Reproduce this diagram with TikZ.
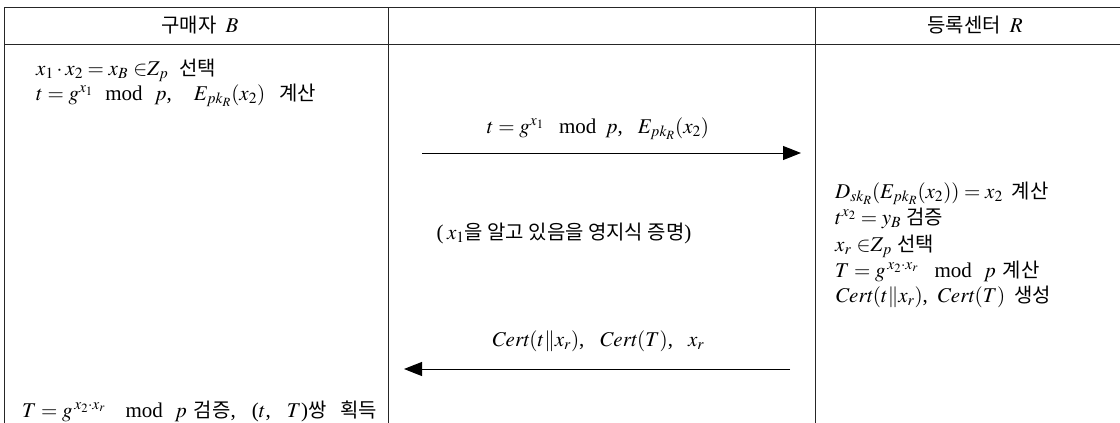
\documentclass[tikz,border=0pt]{standalone}
\usepackage{mathptmx}
\usepackage[no-math]{fontspec}
\setmainfont{Liberation Serif}
\newfontfamily\kr[Scale=0.95]{Noto Sans CJK KR}
\usetikzlibrary{arrows.meta}
\newcommand{\gp}{\hspace{9pt}}
\newcommand{\wgp}{\hspace{15pt}}
\tikzset{
  tline/.style={line width=0.9pt, draw=black!85},
  lbl/.style={inner sep=0pt, font=\fontsize{21}{24}\selectfont},
  msg/.style={line width=1pt, -{Triangle[length=18pt,width=14pt]}},
}
\begin{document}
\begin{tikzpicture}[x=1pt,y=-1pt]
\useasboundingbox (0,0) rectangle (1120,423);
% table lines
\draw[tline] (4,7) -- (1120,7);
\draw[tline] (4,44) -- (1120,44);
\draw[tline] (4,7) -- (4,423);
\draw[tline] (388,7) -- (388,423);
\draw[tline] (815,7) -- (815,423);
% headers
\node[lbl, anchor=base] (hB) at (200,32) {{\kr 구매자}\gp$B$};
\node[lbl, anchor=base] (hR) at (975,32) {{\kr 등록센터}\gp$R$};
% buyer column
\node[lbl, anchor=base west] (b1) at (36,75) {$x_1\cdot x_2 = x_B\ {\in} Z_p$\hspace{11pt}{\kr 선택}};
\node[lbl, anchor=base west] (b2) at (36,100) {$t = g^{x_1}$\hspace{12pt}mod\hspace{12pt}$p$,\hspace{22pt}$E_{pk_R}(x_2)$\hspace{14pt}{\kr 계산}};
\node[lbl, anchor=base west] (b3) at (22,417) {$T = g^{\,x_2\cdot x_r}$\hspace{20pt}mod\hspace{12pt}$p$\hspace{7pt}{\kr 검증},\hspace{16pt}($t$,\hspace{16pt}$T$){\kr 쌍}\hspace{14pt}{\kr 획득}};
% registration center column
\node[lbl, anchor=base west] (r1) at (835,198) {$D_{sk_R}(E_{pk_R}(x_2)) = x_2$\gp{\kr 계산}};
\node[lbl, anchor=base west] (r2) at (835,224) {$t^{x_2} = y_B$\ {\kr 검증}};
\node[lbl, anchor=base west] (r3) at (835,251) {$x_r\ {\in} Z_p$\ {\kr 선택}};
\node[lbl, anchor=base west] (r4) at (835,277) {$T = g^{\,x_2\cdot x_r}$\hspace{16pt}mod\hspace{12pt}$p$\hspace{7pt}{\kr 계산}};
\node[lbl, anchor=base west] (r5) at (835,302) {$\mathit{Cert}(t\|x_r)$,\gp$\mathit{Cert}(T)$\gp{\kr 생성}};
% messages
\coordinate (m1s) at (422,153);
\coordinate (m1e) at (801,153);
\draw[msg] (m1s) -- (m1e);
\node[lbl, anchor=base] (m1l) at (598,133) {$t = g^{x_1}$\wgp mod\gp$p$,\wgp$E_{pk_R}(x_2)$};
\node[lbl, anchor=base] (zk) at (564,239) {(\,$x_1${\kr 을 알고 있음을 영지식 증명})};
\coordinate (m2s) at (790,369);
\coordinate (m2e) at (404,369);
\draw[msg] (m2s) -- (m2e);
\node[lbl, anchor=base] (m2l) at (598,346) {$\mathit{Cert}(t\|x_r)$,\wgp$\mathit{Cert}(T)$,\wgp$x_r$};
\end{tikzpicture}
\end{document}
